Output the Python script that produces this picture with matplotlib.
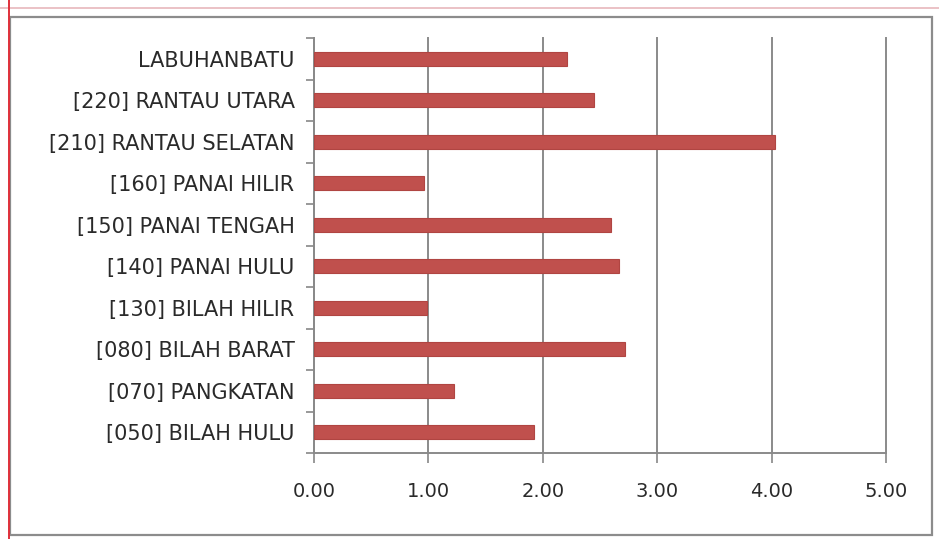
import matplotlib
matplotlib.use("Agg")
import matplotlib.pyplot as plt
from matplotlib.lines import Line2D
from matplotlib.patches import Rectangle

# data, top to bottom as in the chart
regions = ["LABUHANBATU", "[220] RANTAU UTARA", "[210] RANTAU SELATAN",
           "[160] PANAI HILIR", "[150] PANAI TENGAH", "[140] PANAI HULU",
           "[130] BILAH HILIR", "[080] BILAH BARAT", "[070] PANGKATAN",
           "[050] BILAH HULU"]
values = [2.21, 2.45, 4.03, 0.96, 2.60, 2.67, 0.99, 2.72, 1.22, 1.92]
xticks = [0, 1, 2, 3, 4, 5]

W, H = 939, 539
fig = plt.figure(figsize=(W / 100, H / 100), dpi=100)
ax = fig.add_axes([314 / W, 1 - 453 / H, (886 - 314) / W, (453 - 38) / H])

ypos = list(range(len(regions)))[::-1]
ax.barh(ypos, values, height=0.34, color="#C0504D", edgecolor="#B04542",
        linewidth=0.8, zorder=3)

ax.set_xlim(0, 5)
ax.set_ylim(-0.5, len(regions) - 0.5)
ax.set_xticks(xticks)
ax.set_xticklabels([f"{v:.2f}" for v in xticks])
ax.set_yticks(ypos)
ax.set_yticklabels(regions)
# ticks between categories like Excel
ax.set_yticks([i + 0.5 for i in range(-1, len(regions))], minor=True)
ax.tick_params(axis="y", which="major", length=0, pad=14)
ax.tick_params(axis="y", which="minor", length=6, color="#888888", width=1.2)
ax.tick_params(axis="x", length=7, color="#888888", width=1.2, pad=14)
for lab in ax.get_xticklabels():
    lab.set_fontsize(14)
    lab.set_color("#2a2a2a")
for lab in ax.get_yticklabels():
    lab.set_fontsize(15)
    lab.set_color("#2a2a2a")

ax.grid(axis="x", color="#8a8a8a", linewidth=1.4, zorder=0)
for gl in ax.get_xgridlines():
    gl.set_clip_on(False)
for s in ["top", "right"]:
    ax.spines[s].set_visible(False)
for s in ["left", "bottom"]:
    ax.spines[s].set_color("#8a8a8a")
    ax.spines[s].set_linewidth(1.4)

# outer chart frame
fig.patches.append(Rectangle((10 / W, 1 - 535 / H), (932 - 10) / W, (535 - 17) / H,
                             transform=fig.transFigure, fill=False,
                             edgecolor="#8c8c8c", linewidth=1.6))
fig.lines.append(Line2D([0, 1], [1 - 8 / H, 1 - 8 / H], transform=fig.transFigure,
                        color="#e8b8bc", linewidth=1.2))
fig.lines.append(Line2D([9 / W, 9 / W], [0, 1], transform=fig.transFigure,
                        color="#e0303a", linewidth=1.4))

fig.savefig("out.png", dpi=100)
